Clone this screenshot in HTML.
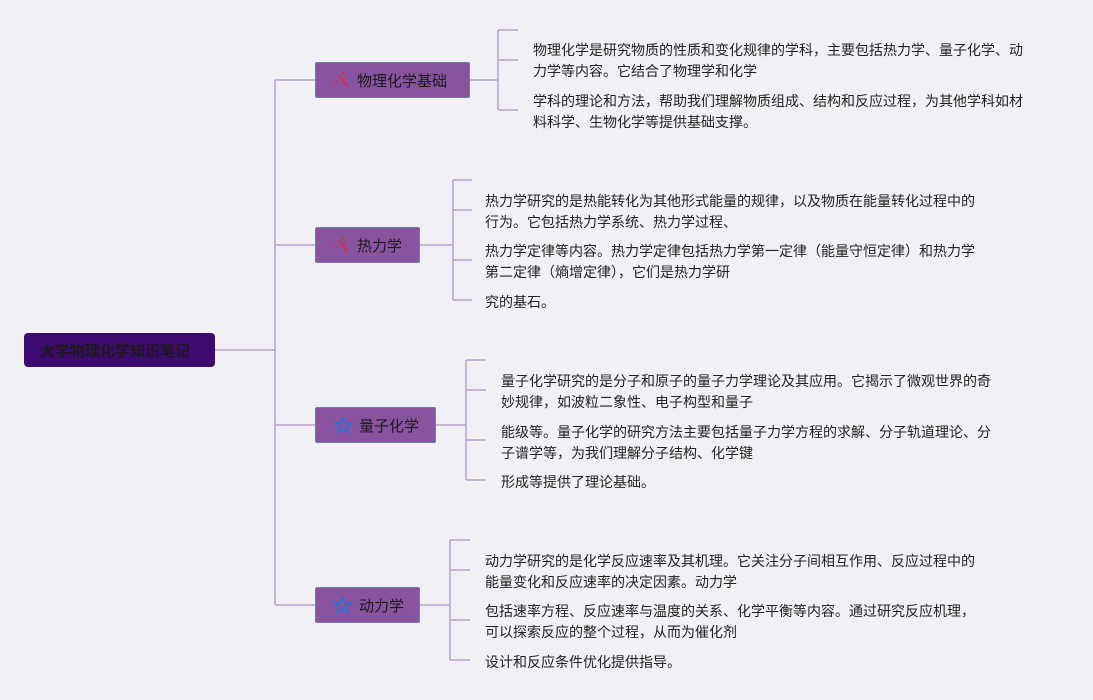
<!DOCTYPE html>
<html><head><meta charset="utf-8"><style>
body{margin:0;width:1093px;height:700px;background:#f1f0f4;position:relative;overflow:hidden;font-family:"Liberation Sans","Noto Sans CJK SC",sans-serif;}
.t{position:absolute;font-size:14px;color:#222;line-height:21px;white-space:nowrap;}
.n{position:absolute;background:#8a53a0;border:1px solid #6f7f9a;border-radius:2px;color:#1a1a1a;font-size:15px;display:flex;align-items:center;box-sizing:border-box;padding-left:17px;}
.n svg{margin-right:6px;}
</style></head><body>
<svg width="1093" height="700" style="position:absolute;left:0;top:0">
<g stroke="#b9a0d0" stroke-width="1.5" fill="none">
<path d="M215 350H275M275 80V605M275 80H315M275 245H315M275 425H315M275 605H315"/>
<path d="M470 80H498M498 30V110M498 30H518M498 60H518M498 110H518"/>
<path d="M420 245H453M453 180V300M453 180H472M453 210H472M453 260H472M453 300H472"/>
<path d="M436 425H466M466 360V480M466 360H486M466 390H486M466 440H486M466 480H486"/>
<path d="M420 605H450M450 540V660M450 540H470M450 570H470M450 620H470M450 660H470"/>
</g></svg>
<div class="n" style="left:24px;top:333px;width:191px;height:34px;background:#3f0a70;border-color:#3f0a70;border-radius:4px;font-weight:bold;padding-left:15px;">大学物理化学知识笔记</div>
<div class="n" style="left:315px;top:62px;width:155px;height:36px;"><svg width="18" height="18" viewBox="0 0 18 18"><path d="M6 5L15 15" stroke="#d0304a" stroke-width="2"/><circle cx="10" cy="2" r="1.3" fill="#d0304a"/><circle cx="3" cy="11" r="1.3" fill="#d0304a"/><circle cx="12" cy="7" r="1" fill="#d0304a"/></svg>物理化学基础</div>
<div class="n" style="left:315px;top:227px;width:105px;height:36px;"><svg width="18" height="18" viewBox="0 0 18 18"><path d="M6 5L15 15" stroke="#d0304a" stroke-width="2"/><circle cx="10" cy="2" r="1.3" fill="#d0304a"/><circle cx="3" cy="11" r="1.3" fill="#d0304a"/><circle cx="12" cy="7" r="1" fill="#d0304a"/></svg>热力学</div>
<div class="n" style="left:315px;top:407px;width:121px;height:36px;"><svg width="20" height="19" viewBox="0 0 20 19"><path d="M10 1.5L12.4 7H18.3L13.5 10.6L15.3 16.5L10 13L4.7 16.5L6.5 10.6L1.7 7H7.6Z" fill="none" stroke="#2f6fd0" stroke-width="1.8"/></svg>量子化学</div>
<div class="n" style="left:315px;top:587px;width:105px;height:36px;"><svg width="20" height="19" viewBox="0 0 20 19"><path d="M10 1.5L12.4 7H18.3L13.5 10.6L15.3 16.5L10 13L4.7 16.5L6.5 10.6L1.7 7H7.6Z" fill="none" stroke="#2f6fd0" stroke-width="1.8"/></svg>动力学</div>
<div class="t" style="left:533px;top:40px">物理化学是研究物质的性质和变化规律的学科，主要包括热力学、量子化学、动<br>力学等内容。它结合了物理学和化学</div>
<div class="t" style="left:533px;top:91px">学科的理论和方法，帮助我们理解物质组成、结构和反应过程，为其他学科如材<br>料科学、生物化学等提供基础支撑。</div>
<div class="t" style="left:485px;top:191px">热力学研究的是热能转化为其他形式能量的规律，以及物质在能量转化过程中的<br>行为。它包括热力学系统、热力学过程、</div>
<div class="t" style="left:485px;top:241px">热力学定律等内容。热力学定律包括热力学第一定律（能量守恒定律）和热力学<br>第二定律（熵增定律），它们是热力学研</div>
<div class="t" style="left:485px;top:292px">究的基石。</div>
<div class="t" style="left:501px;top:371px">量子化学研究的是分子和原子的量子力学理论及其应用。它揭示了微观世界的奇<br>妙规律，如波粒二象性、电子构型和量子</div>
<div class="t" style="left:501px;top:422px">能级等。量子化学的研究方法主要包括量子力学方程的求解、分子轨道理论、分<br>子谱学等，为我们理解分子结构、化学键</div>
<div class="t" style="left:501px;top:472px">形成等提供了理论基础。</div>
<div class="t" style="left:485px;top:551px">动力学研究的是化学反应速率及其机理。它关注分子间相互作用、反应过程中的<br>能量变化和反应速率的决定因素。动力学</div>
<div class="t" style="left:485px;top:601px">包括速率方程、反应速率与温度的关系、化学平衡等内容。通过研究反应机理，<br>可以探索反应的整个过程，从而为催化剂</div>
<div class="t" style="left:485px;top:652px">设计和反应条件优化提供指导。</div>
</body></html>
